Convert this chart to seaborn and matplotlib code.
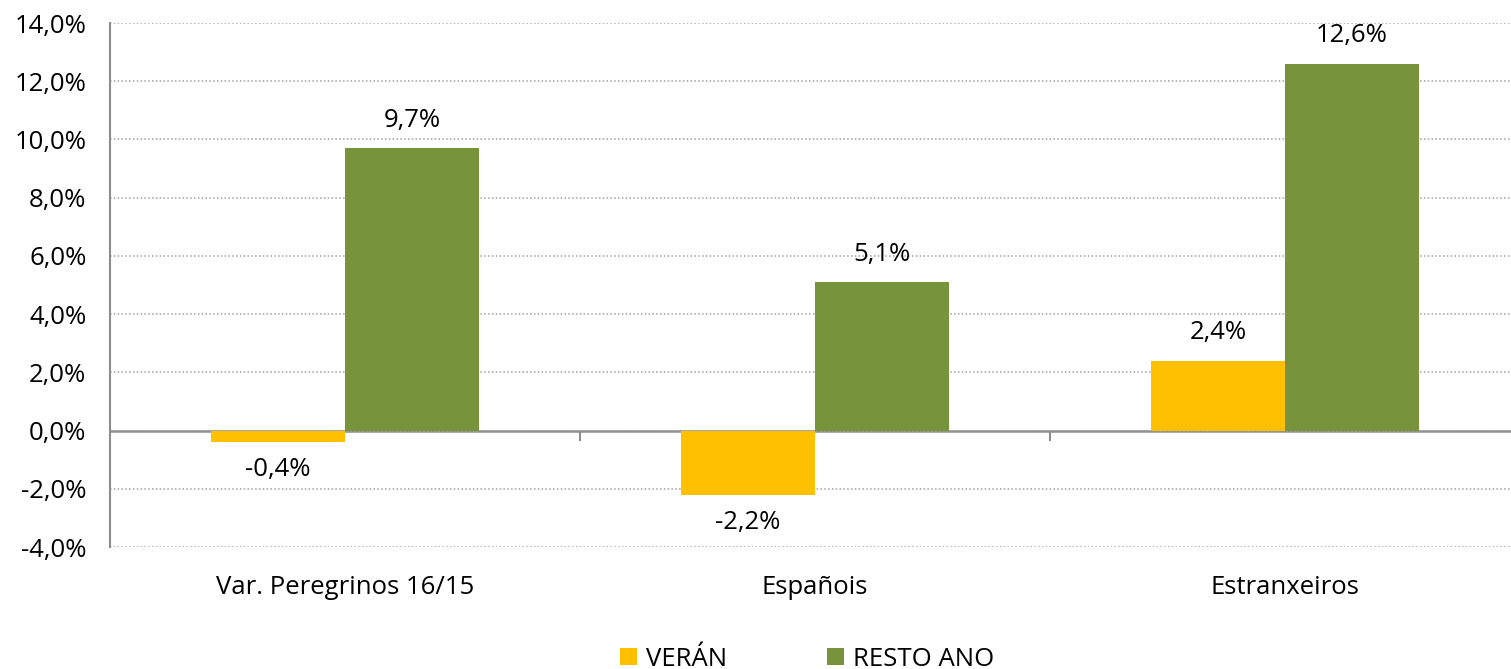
import matplotlib
matplotlib.use("Agg")
import matplotlib.pyplot as plt
import seaborn as sns
import pandas as pd
from matplotlib.patches import Patch

categories = ["Var. Peregrinos 16/15", "Españois", "Estranxeiros"]
series = ["VERÁN", "RESTO ANO"]
veran = [-0.4, -2.2, 2.4]
resto_ano = [9.7, 5.1, 12.6]
y_ticks = [-4, -2, 0, 2, 4, 6, 8, 10, 12, 14]

colors = {"VERÁN": "#FFC000", "RESTO ANO": "#77933C"}
grey = "#8C8C8C"

df = pd.DataFrame({
    "categoria": categories * 2,
    "serie": [series[0]] * 3 + [series[1]] * 3,
    "valor": veran + resto_ano,
})

sns.set_theme(style="white")
plt.rcParams["font.family"] = ["Open Sans", "DejaVu Sans"]
plt.rcParams["text.color"] = "black"
plt.rcParams["xtick.color"] = "black"
plt.rcParams["ytick.color"] = "black"
FS = 18.5

fig = plt.figure(figsize=(15.11, 6.69), dpi=100)
ax = fig.add_axes([110 / 1511, 122 / 669, 1410 / 1511, 524 / 669])

sns.barplot(data=df, x="categoria", y="valor", hue="serie", order=categories,
            hue_order=series, palette=colors, width=0.57, saturation=1,
            edgecolor="none", linewidth=0, ax=ax, legend=False, zorder=3)

ax.set_xlim(-0.5, 2.5)
ax.set_ylim(-4, 14)
ax.set_yticks(y_ticks)
ax.set_yticklabels([f"{v:.1f}%".replace(".", ",") for v in y_ticks], fontsize=FS)
ax.yaxis.grid(True, linestyle=(0, (1, 1.5)), color="#A0A0A0", linewidth=1.1, zorder=0)
ax.xaxis.grid(False)
ax.set_xlabel("")
ax.set_ylabel("")
ax.tick_params(axis="y", direction="out", length=7, width=1.5, color=grey,
               labelcolor="black", pad=10)
ax.tick_params(axis="x", length=0, pad=20, labelsize=FS, labelcolor="black")

for side in ["top", "right", "bottom"]:
    ax.spines[side].set_visible(False)
ax.spines["left"].set_color(grey)
ax.spines["left"].set_linewidth(1.5)

# horizontal category axis crossing at zero, with ticks between the groups
zero_frac = (0 - ax.get_ylim()[0]) / (ax.get_ylim()[1] - ax.get_ylim()[0])
sec = ax.secondary_xaxis(zero_frac)
sec.set_xticks([0.5, 1.5])
sec.set_xticklabels([])
sec.tick_params(direction="out", length=7, width=1.5, color=grey)
sec.spines["bottom"].set_color(grey)
sec.spines["bottom"].set_linewidth(1.8)

for cont in ax.containers:
    labels = [f"{b.get_height():.1f}%".replace(".", ",") for b in cont]
    ax.bar_label(cont, labels=labels, padding=11, fontsize=FS, color="black")

handles = [Patch(facecolor=colors[s], edgecolor="none") for s in series]
fig.legend(handles, series, loc="center", bbox_to_anchor=(807 / 1511, 10 / 669), ncol=2,
           frameon=False, fontsize=FS, handlelength=0.65, handleheight=0.65,
           handletextpad=0.35, columnspacing=3.9)

fig.savefig("out.png", dpi=100)
